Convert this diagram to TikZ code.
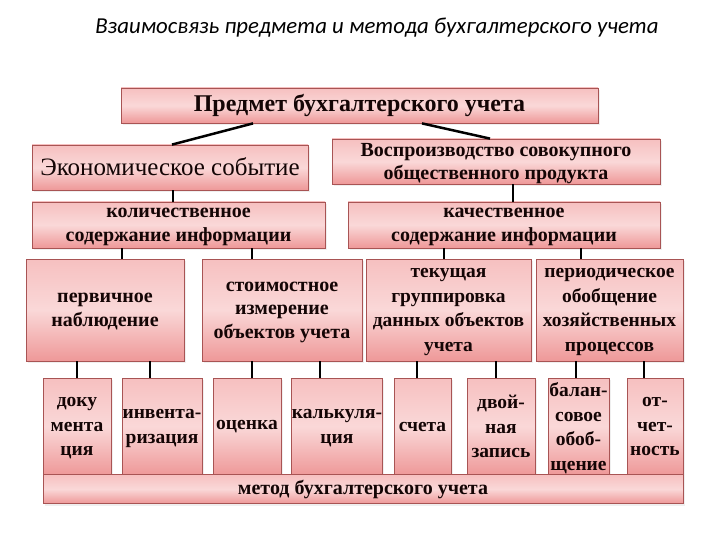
\documentclass[tikz,border=0pt]{standalone}
\usepackage{fontspec}
\setmainfont{Liberation Serif}
\newfontfamily\titlefont{Carlito}
\usetikzlibrary{calc,shadows}
\definecolor{boxTop}{RGB}{246,192,192}
\definecolor{boxMid}{RGB}{250,216,216}
\definecolor{boxBot}{RGB}{238,152,152}
\definecolor{boxEdge}{RGB}{168,84,84}
\definecolor{inkDark}{RGB}{20,5,5}
\newcommand{\BigText}[1]{{\fontsize{24}{28}\selectfont #1}}
\tikzset{
  box/.style={draw=boxEdge,line width=0.8pt,top color=boxTop,bottom color=boxBot,middle color=boxMid,
    text=inkDark,align=center,inner sep=2pt,font=\fontsize{20}{23.5}\selectfont\bfseries,
    drop shadow={opacity=0.12,shadow xshift=2pt,shadow yshift=-2pt}},
  tall/.style={box,inner xsep=0pt,font=\fontsize{19.5}{24.5}\selectfont\bfseries},
  lower/.style={text depth=-7pt},
  link/.style={line width=2pt,draw=black}
}

\begin{document}
\begin{tikzpicture}[x=1pt,y=-1pt]
\useasboundingbox (0,0) rectangle (720,540);
\fill[white] (0,0) rectangle (720,540);

\node (title) at (377,28) {\titlefont\itshape\fontsize{22.8}{27}\selectfont Взаимосвязь предмета и метода бухгалтерского учета};

% top levels
\node[box,minimum width=477pt,minimum height=35pt] (predmet) at (359.5,105.5) {\BigText{Предмет бухгалтерского учета}};
\node[box,minimum width=276pt,minimum height=45pt,font=\fontsize{25}{29}\selectfont,text depth=2pt] (ekon) at (170,167.5) {Экономическое событие};
\node[box,lower,minimum width=328pt,minimum height=45pt] (vospr) at (496,161.5) {Воспроизводство совокупного\\общественного продукта};
\node[box,lower,minimum width=293pt,minimum height=46pt] (kolich) at (178.5,225) {количественное\\содержание информации};
\node[box,lower,minimum width=312pt,minimum height=46pt] (kach) at (504,225) {качественное\\содержание информации};

% third row
\node[box,lower,minimum width=158pt,minimum height=102pt] (perv) at (105,310) {первичное\\наблюдение};
\node[box,lower,minimum width=160pt,minimum height=102pt] (stoim) at (282,310) {стоимостное\\измерение\\объектов учета};
\node[tall,lower,inner xsep=2pt,minimum width=165pt,minimum height=102pt] (tek) at (448.5,310) {текущая\\группировка\\данных объектов\\учета};
\node[tall,lower,inner xsep=2pt,minimum width=147pt,minimum height=102pt] (period) at (609.5,310) {периодическое\\обобщение\\хозяйственных\\процессов};

% fourth row
\node[tall,lower,minimum width=68pt,minimum height=97pt] (doku) at (77,426.5) {доку\\мента\\ция};
\node[tall,lower,minimum width=80pt,minimum height=97pt] (inv) at (162,426.5) {инвента-\\ризация};
\node[tall,minimum width=68pt,minimum height=97pt] (ocenka) at (247,426.5) {оценка};
\node[tall,lower,minimum width=90pt,minimum height=97pt] (kalk) at (337,426.5) {калькуля-\\ция};
\node[tall,minimum width=57pt,minimum height=97pt] (scheta) at (422.5,426.5) {счета};
\node[tall,lower,minimum width=68pt,minimum height=97pt] (dvoi) at (501,426.5) {двой-\\ная\\запись};
\node[tall,lower,minimum width=61pt,minimum height=97pt] (balan) at (578.5,426.5) {балан-\\совое\\обоб-\\щение};
\node[tall,lower,minimum width=56pt,minimum height=97pt] (ot) at (655,426.5) {от-\\чет-\\ность};
\node[box,minimum width=640pt,minimum height=29pt] (method) at (363,489) {метод бухгалтерского учета};

% connectors
\draw[link,line width=2.5pt] ([xshift=-106.5pt]predmet.south) -- ([xshift=2pt]ekon.north);
\draw[link,line width=2.5pt] ([xshift=62.5pt]predmet.south) -- ([xshift=-6pt]vospr.north);
\draw[link] ([xshift=3pt]ekon.south) -- ([xshift=3pt]ekon.south |- kolich.north);
\draw[link] ([xshift=17pt]vospr.south) -- ([xshift=17pt]vospr.south |- kach.north);
\draw[link] ([xshift=17pt]perv.north) -- ([xshift=17pt]perv.north |- kolich.south);
\draw[link] ([xshift=-30pt]stoim.north) -- ([xshift=-30pt]stoim.north |- kolich.south);
\draw[link] ([xshift=-4.5pt]tek.north) -- ([xshift=-4.5pt]tek.north |- kach.south);
\draw[link] ([xshift=-28.5pt]period.north) -- ([xshift=-28.5pt]period.north |- kach.south);
\draw[link] (doku.north) -- (doku.north |- perv.south);
\draw[link] ([xshift=-12pt]inv.north) -- ([xshift=-12pt]inv.north |- perv.south);
\draw[link] ([xshift=5pt]ocenka.north) -- ([xshift=5pt]ocenka.north |- stoim.south);
\draw[link] ([xshift=-17pt]kalk.north) -- ([xshift=-17pt]kalk.north |- stoim.south);
\draw[link] ([xshift=-5.5pt]scheta.north) -- ([xshift=-5.5pt]scheta.north |- tek.south);
\draw[link] ([xshift=-5pt]dvoi.north) -- ([xshift=-5pt]dvoi.north |- tek.south);
\draw[link] ([xshift=-2.5pt]balan.north) -- ([xshift=-2.5pt]balan.north |- period.south);
\draw[link] ([xshift=-11pt]ot.north) -- ([xshift=-11pt]ot.north |- period.south);
\end{tikzpicture}
\end{document}
